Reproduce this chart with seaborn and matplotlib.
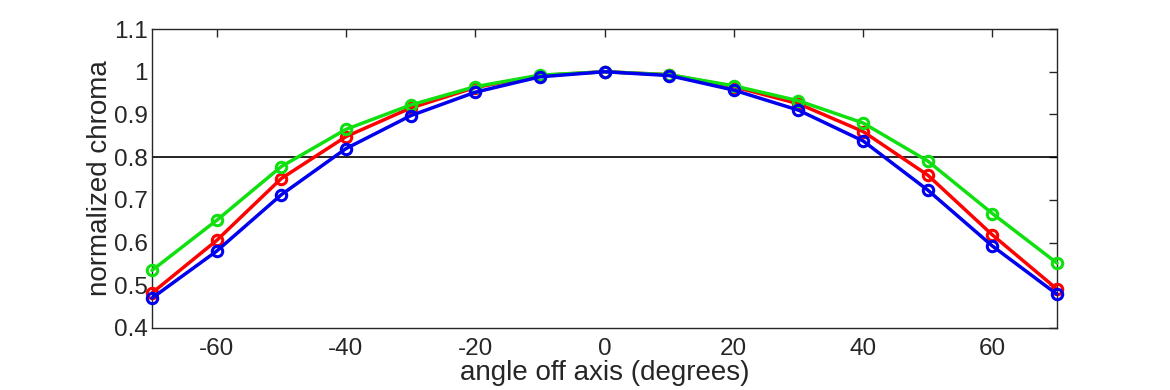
import matplotlib
matplotlib.use("Agg")
import matplotlib.pyplot as plt
import seaborn as sns
import pandas as pd

angles = [-70, -60, -50, -40, -30, -20, -10, 0, 10, 20, 30, 40, 50, 60, 70]
red = [0.482, 0.605, 0.750, 0.848, 0.915, 0.963, 0.991, 1.0, 0.993, 0.965, 0.925, 0.860, 0.758, 0.618, 0.491]
green = [0.535, 0.652, 0.778, 0.865, 0.922, 0.965, 0.992, 1.0, 0.993, 0.967, 0.932, 0.880, 0.791, 0.668, 0.552]
blue = [0.470, 0.580, 0.712, 0.820, 0.897, 0.952, 0.988, 1.0, 0.991, 0.957, 0.910, 0.838, 0.723, 0.592, 0.479]
threshold = 0.8
xticks = [-60, -40, -20, 0, 20, 40, 60]
yticks = [0.4, 0.5, 0.6, 0.7, 0.8, 0.9, 1.0, 1.1]
ytick_labels = ["0.4", "0.5", "0.6", "0.7", "0.8", "0.9", "1", "1.1"]

sns.set_style("white")
plt.rcParams["font.family"] = ["Liberation Sans", "DejaVu Sans"]

fig = plt.figure(figsize=(11.7, 3.9), dpi=100)
ax = fig.add_axes([152/1170, 1-328/390, (1057-152)/1170, (328-29)/390])

ax.axhline(threshold, color="black", lw=1.2, zorder=1)

for vals, col in [(red, "#ff0000"), (green, "#10e010"), (blue, "#0000ee")]:
    df = pd.DataFrame({"angle": angles, "value": vals})
    sns.lineplot(data=df, x="angle", y="value", ax=ax, color=col, lw=2.5,
                 marker="o", markersize=7.5, markerfacecolor="none",
                 markeredgecolor=col, markeredgewidth=2.2, zorder=3, clip_on=False)

ax.set_xlim(-70, 70)
ax.set_ylim(0.4, 1.1)
ax.set_xticks(xticks)
ax.set_xticklabels([str(t) for t in xticks])
ax.set_yticks(yticks)
ax.set_yticklabels(ytick_labels)
ax.tick_params(direction="in", length=6, width=1, colors="#262626",
               labelsize=17.5, top=True, right=True, labelcolor="#262626")
ax.tick_params(axis="x", pad=7)
ax.tick_params(axis="y", pad=3)
for s in ax.spines.values():
    s.set_visible(True)
    s.set_color("#262626")
    s.set_linewidth(1.0)
ax.set_xlabel("angle off axis (degrees)", fontsize=20, color="#262626", labelpad=0)
ax.set_ylabel("normalized chroma", fontsize=20, color="#262626", labelpad=1)

fig.savefig("out.png", dpi=100)
